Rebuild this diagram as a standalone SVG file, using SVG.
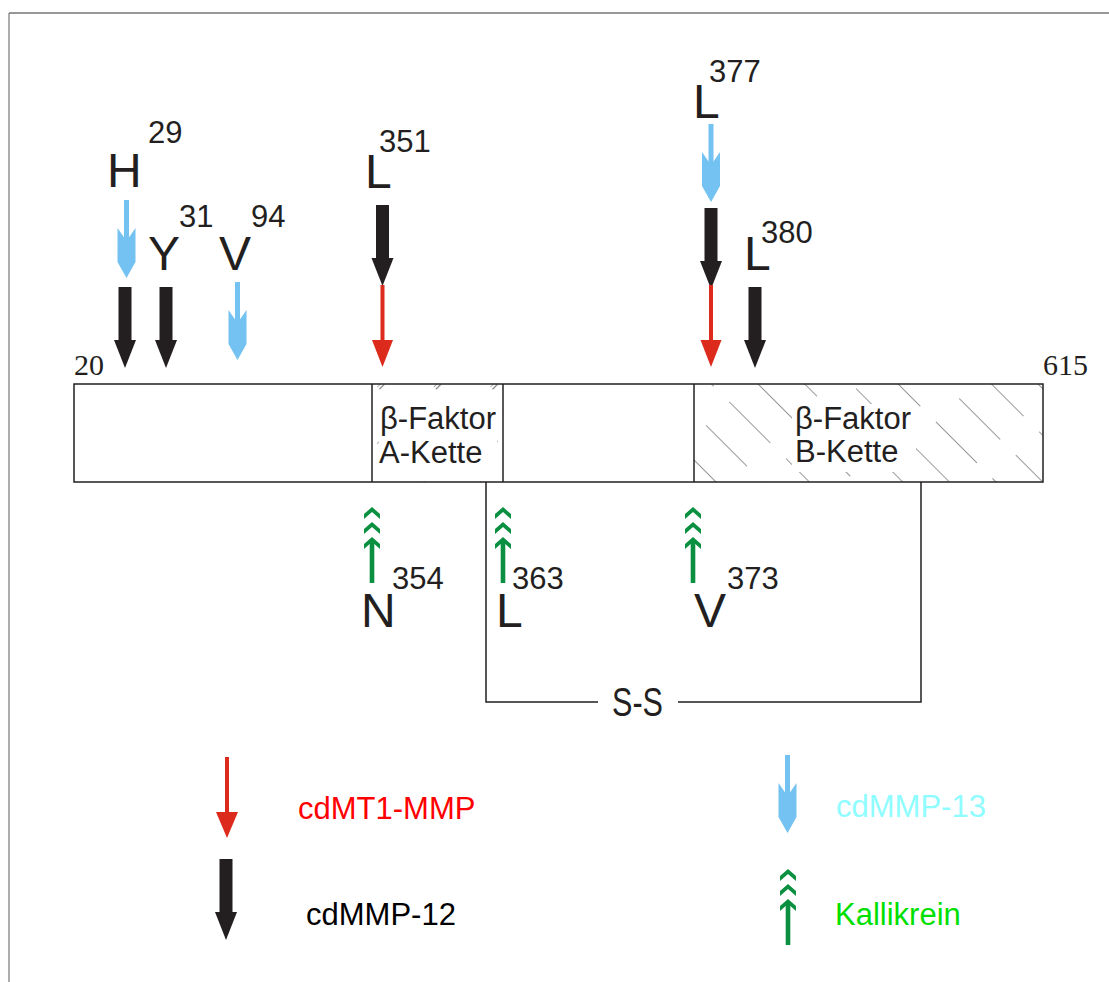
<svg xmlns="http://www.w3.org/2000/svg" width="1109" height="982" viewBox="0 0 1109 982">
<style>
.lbl{font-family:"Liberation Sans",Arial,sans-serif;font-size:48px;fill:#231f20}
.sup{font-family:"Liberation Sans",Arial,sans-serif;font-size:31px;fill:#231f20}
.num{font-family:"Liberation Serif","Times New Roman",serif;font-size:30px;fill:#231f20}
.box{font-family:"Liberation Sans",Arial,sans-serif;font-size:31px;fill:#231f20}
.leg{font-family:"Liberation Sans",Arial,sans-serif;font-size:31px}
.edge{fill:none;stroke:#231f20;stroke-width:1.5}
</style>
<defs>
<g id="blk"><rect x="-6.5" y="0" width="13" height="54" fill="#231f20"/><polygon points="-11,53 11,53 0,81" fill="#231f20"/></g>
<g id="red"><line x1="0" y1="-82" x2="0" y2="-26" stroke="#dc2a1c" stroke-width="4"/><polygon points="-10.5,-27 10.5,-27 0,0" fill="#dc2a1c"/></g>
<g id="blue"><rect x="-2.5" y="-78" width="5" height="42" fill="#73c2f1"/><polygon points="-9,-50 0,-37 9,-50 9,-16 0,0 -9,-16" fill="#73c2f1"/></g>
<polygon id="chev" points="0,0 8,7 8,12 0,5 -8,12 -8,7" fill="#0a9040"/>
<g id="kal"><use href="#chev" y="0"/><use href="#chev" y="15"/><use href="#chev" y="30"/><rect x="-2.3" y="33" width="4.6" height="43" fill="#0a9040"/></g>
<pattern id="hatchB" width="33" height="80" patternUnits="userSpaceOnUse" patternTransform="rotate(-45)"><line x1="0" y1="0" x2="0" y2="80" stroke="#444" stroke-width="1.1" stroke-dasharray="58 22"/></pattern>
<pattern id="hatchA" width="20" height="40" patternUnits="userSpaceOnUse" patternTransform="rotate(45)"><line x1="0" y1="0" x2="0" y2="40" stroke="#777" stroke-width="1.2" stroke-dasharray="7 33"/><line x1="3.5" y1="0" x2="3.5" y2="40" stroke="#777" stroke-width="1.2" stroke-dasharray="7 33"/></pattern>
</defs>
<rect width="1109" height="982" fill="#fff"/>
<g id="frame"><line x1="9" y1="13" x2="1109" y2="13" stroke="#333" stroke-width="1.2"/><line x1="9" y1="13" x2="9" y2="982" stroke="#777" stroke-width="1.2"/></g>
<g id="bar">
<rect x="74" y="384" width="969" height="98" fill="#fff"/>
<rect x="372" y="384" width="131" height="98" fill="url(#hatchA)"/>
<rect x="379" y="393" width="118" height="82" fill="#fff"/>
<rect x="694" y="384" width="349" height="98" fill="url(#hatchB)"/>
<rect x="792" y="404" width="124" height="68" fill="#fff"/>
<rect x="74" y="384" width="969" height="98" class="edge"/>
<line x1="372" y1="384" x2="372" y2="482" class="edge"/>
<line x1="503" y1="384" x2="503" y2="482" class="edge"/>
<line x1="694" y1="384" x2="694" y2="482" class="edge"/>
<text class="num" x="74" y="375">20</text>
<text class="num" x="1043" y="375">615</text>
</g>
<g id="chainA"><text class="box" x="380" y="429">β-Faktor</text><text class="box" x="379" y="463">A-Kette</text></g>
<g id="chainB"><text class="box" x="795" y="429">β-Faktor</text><text class="box" x="795" y="462">B-Kette</text></g>
<g id="ss">
<polyline points="486,482 486,702 598,702" class="edge" stroke-width="1.3"/>
<polyline points="678,702 921,702 921,482" class="edge" stroke-width="1.3"/>
<text x="612" y="716" font-family="Liberation Sans,Arial,sans-serif" font-size="40" fill="#231f20" textLength="51" lengthAdjust="spacingAndGlyphs">S-S</text>
</g>
<g id="sites">
<g id="H29"><text class="lbl" x="107" y="187">H</text><text class="sup" x="148" y="143">29</text></g>
<g id="Y31"><text class="lbl" x="148" y="270">Y</text><text class="sup" x="179" y="227">31</text></g>
<g id="V94"><text class="lbl" x="219" y="270">V</text><text class="sup" x="251" y="227">94</text></g>
<g id="L351"><text class="lbl" x="365" y="188">L</text><text class="sup" x="379" y="152">351</text></g>
<g id="L377"><text class="lbl" x="693" y="118">L</text><text class="sup" x="709" y="82">377</text></g>
<g id="L380"><text class="lbl" x="744" y="270">L</text><text class="sup" x="761" y="243">380</text></g>
<g id="N354"><text class="lbl" x="361" y="627">N</text><text class="sup" x="392" y="589">354</text></g>
<g id="L363"><text class="lbl" x="496" y="627">L</text><text class="sup" x="512" y="589">363</text></g>
<g id="V373"><text class="lbl" x="694" y="627">V</text><text class="sup" x="727" y="589">373</text></g>
</g>
<g id="connectors">
<use href="#blue" x="126.5" y="278"/>
<use href="#blk" x="125" y="287"/>
<use href="#blk" x="166" y="287"/>
<use href="#blue" x="237.5" y="360"/>
<use href="#blk" x="382.5" y="205"/>
<use href="#red" x="382.5" y="367"/>
<use href="#blue" x="711" y="202"/>
<use href="#blk" x="711" y="208"/>
<use href="#red" x="711" y="367"/>
<use href="#blk" x="755" y="287"/>
<use href="#kal" x="372" y="507"/>
<use href="#kal" x="503" y="507"/>
<use href="#kal" x="693" y="507"/>
</g>
<g id="legend">
<g id="leg-mt1"><line x1="227" y1="757" x2="227" y2="814" stroke="#dc2a1c" stroke-width="4"/><polygon points="216,812 238,812 227,838" fill="#dc2a1c"/><text class="leg" x="298" y="819" fill="#ff0000">cdMT1-MMP</text></g>
<g id="leg-mmp12"><use href="#blk" x="226" y="859"/><text class="leg" x="306" y="925" fill="#000">cdMMP-12</text></g>
<g id="leg-mmp13"><use href="#blue" x="787.5" y="833"/><text class="leg" x="836" y="817" fill="#8ffcff">cdMMP-13</text></g>
<g id="leg-kal"><use href="#kal" x="788" y="869"/><text class="leg" x="835" y="925" fill="#00e000">Kallikrein</text></g>
</g>
</svg>
